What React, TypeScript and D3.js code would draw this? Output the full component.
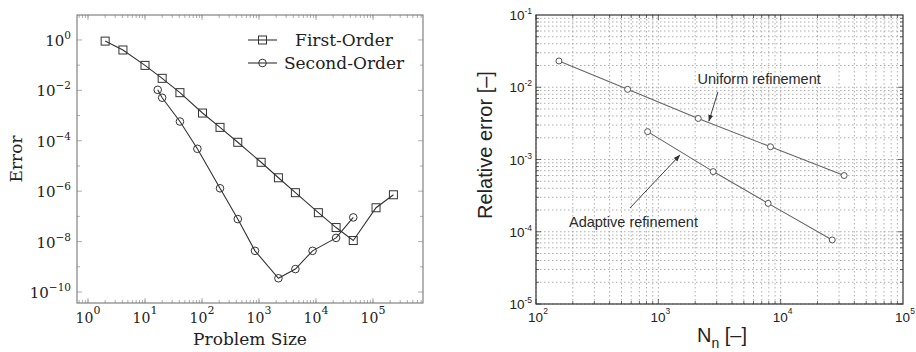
import React from 'react';
import * as d3 from 'd3';

// ---- left panel: convergence of first / second order schemes ----
const firstX = [2, 4.1, 10, 20, 41, 102, 207, 424, 1090, 2190, 4350, 11000, 22500, 45000, 113000, 228000];
const firstY = [0.9, 0.4, 0.098, 0.03, 0.0081, 0.00126, 3.4e-4, 8.7e-5, 1.4e-5, 3.4e-6, 8.7e-7, 1.4e-7, 3.6e-8, 1.1e-8, 2.2e-7, 7.2e-7];
const secondX = [16.7, 20, 41, 83, 207, 424, 850, 2190, 4350, 8700, 22500, 45000];
const secondY = [0.0105, 0.0051, 5.8e-4, 4.8e-5, 1.3e-6, 7.8e-8, 4.3e-9, 3.5e-10, 8.1e-10, 4.3e-9, 1.4e-8, 9.1e-8];
const leftXTicks = [0, 1, 2, 3, 4, 5];
const leftYTicks = [0, -2, -4, -6, -8, -10];
const legendLabels = ['First-Order', 'Second-Order'];

// ---- right panel: uniform vs adaptive refinement ----
const uniformX = [154, 561, 2118, 8260, 33000];
const uniformY = [0.0231, 0.00935, 0.0037, 0.0015, 0.0006];
const adaptiveX = [817, 2810, 7900, 26400];
const adaptiveY = [0.00243, 0.00068, 0.000247, 7.7e-5];
const rightXTicks = [2, 3, 4, 5];
const rightYTicks = [-1, -2, -3, -4, -5];
const annotations = [
  { label: 'Uniform refinement', tx: 2090, ty: 0.013, from: [3070, 0.0086], to: [2590, 0.0034] },
  { label: 'Adaptive refinement', tx: 186, ty: 1.38e-4, from: [586, 2.13e-4], to: [1500, 1.15e-3] },
];

const SERIF = '"DejaVu Serif", serif';
const SANS = '"Liberation Sans", Arial, sans-serif';

// every 1..9 x 10^e value inside [10^lo, 10^hi]
const minorsBetween = (lo: number, hi: number) => {
  const out: number[] = [];
  for (let e = Math.floor(lo); e < Math.ceil(hi); e++) {
    for (let m = 1; m < 10; m++) {
      const v = m * Math.pow(10, e);
      if (Math.log10(v) >= lo - 1e-9 && Math.log10(v) <= hi + 1e-9) out.push(v);
    }
  }
  return out;
};

const LeftPanel: React.FC = () => {
  const L = 77, R = 423, T = 15, B = 303;
  const x = d3.scaleLog().domain([Math.pow(10, -0.193), Math.pow(10, 5.877)]).range([L, R]);
  const y = d3.scaleLog().domain([Math.pow(10, -10.437), Math.pow(10, 0.99)]).range([B, T]);
  const line = d3.line<[number, number]>().x(d => x(d[0])).y(d => y(d[1]));
  const first = firstX.map((v, i) => [v, firstY[i]] as [number, number]);
  const second = secondX.map((v, i) => [v, secondY[i]] as [number, number]);
  const xMinor = minorsBetween(-0.193, 5.877);
  const yMinorDec = d3.range(-10, 1).filter(e => e % 2 !== 0);
  const tickCol = '#999';

  return (
    <g>
      {/* minor ticks */}
      {xMinor.map((v, i) => (
        <g key={'xm' + i} stroke={tickCol} strokeWidth={0.8}>
          <line x1={x(v)} x2={x(v)} y1={B} y2={B - 3} />
          <line x1={x(v)} x2={x(v)} y1={T} y2={T + 3} />
        </g>
      ))}
      {yMinorDec.map(e => (
        <g key={'ym' + e} stroke={tickCol} strokeWidth={0.8}>
          <line x1={L} x2={L + 3} y1={y(Math.pow(10, e))} y2={y(Math.pow(10, e))} />
          <line x1={R} x2={R - 3} y1={y(Math.pow(10, e))} y2={y(Math.pow(10, e))} />
        </g>
      ))}
      {/* major ticks */}
      {leftXTicks.map(e => (
        <g key={'xt' + e} stroke={tickCol} strokeWidth={0.8}>
          <line x1={x(Math.pow(10, e))} x2={x(Math.pow(10, e))} y1={B} y2={B - 5} />
          <line x1={x(Math.pow(10, e))} x2={x(Math.pow(10, e))} y1={T} y2={T + 5} />
        </g>
      ))}
      {leftYTicks.map(e => (
        <g key={'yt' + e} stroke={tickCol} strokeWidth={0.8}>
          <line x1={L} x2={L + 5} y1={y(Math.pow(10, e))} y2={y(Math.pow(10, e))} />
          <line x1={R} x2={R - 5} y1={y(Math.pow(10, e))} y2={y(Math.pow(10, e))} />
        </g>
      ))}
      <rect x={L} y={T} width={R - L} height={B - T} fill="none" stroke="#777" strokeWidth={1.1} />

      {/* tick labels */}
      {leftXTicks.map(e => (
        <text key={'xl' + e} x={x(Math.pow(10, e))} y={B + 20} textAnchor="middle"
          fontFamily={SERIF} fontSize={14} fill="#222">
          <tspan>10</tspan>
          <tspan dy={-9} fontSize={11}>{e}</tspan>
        </text>
      ))}
      {leftYTicks.map(e => (
        <text key={'yl' + e} x={L - 6} y={y(Math.pow(10, e)) + 6} textAnchor="end"
          fontFamily={SERIF} fontSize={15} fill="#222">
          <tspan>10</tspan>
          <tspan dy={-7} fontSize={10.5}>{e === 0 ? '0' : '\u2212' + Math.abs(e)}</tspan>
        </text>
      ))}
      <text x={(L + R) / 2} y={345} textAnchor="middle" fontFamily={SERIF} fontSize={17} fill="#222">
        Problem Size
      </text>
      <text transform={`translate(22,159) rotate(-90)`} textAnchor="middle" fontFamily={SERIF} fontSize={17} fill="#222">
        Error
      </text>

      {/* series */}
      <path d={line(first) || ''} fill="none" stroke="#333" strokeWidth={1.1} />
      <path d={line(second) || ''} fill="none" stroke="#333" strokeWidth={1.1} />
      {first.map((d, i) => (
        <rect key={'fs' + i} x={x(d[0]) - 4} y={y(d[1]) - 4} width={8} height={8}
          fill="none" stroke="#333" strokeWidth={1} />
      ))}
      {second.map((d, i) => (
        <circle key={'sc' + i} cx={x(d[0])} cy={y(d[1])} r={3.8} fill="none" stroke="#333" strokeWidth={1} />
      ))}

      {/* legend */}
      {legendLabels.map((lab, i) => {
        const ly = 40 + i * 23;
        return (
          <g key={lab}>
            <line x1={248} x2={277} y1={ly} y2={ly} stroke="#333" strokeWidth={1.1} />
            {i === 0
              ? <rect x={258.5} y={ly - 4} width={8} height={8} fill="none" stroke="#333" strokeWidth={1} />
              : <circle cx={262.5} cy={ly} r={3.8} fill="none" stroke="#333" strokeWidth={1} />}
            <text x={344} y={ly + 6} textAnchor="middle" fontFamily={SERIF} fontSize={17} fill="#222">{lab}</text>
          </g>
        );
      })}
    </g>
  );
};

const RightPanel: React.FC = () => {
  const L = 536, R = 903, T = 15, B = 304;
  const x = d3.scaleLog().domain([1e2, 1e5]).range([L, R]);
  const y = d3.scaleLog().domain([1e-5, 1e-1]).range([B, T]);
  const line = d3.line<[number, number]>().x(d => x(d[0])).y(d => y(d[1]));
  const uni = uniformX.map((v, i) => [v, uniformY[i]] as [number, number]);
  const ada = adaptiveX.map((v, i) => [v, adaptiveY[i]] as [number, number]);
  const xGrid = minorsBetween(2, 5);
  const yGrid = minorsBetween(-5, -1);

  return (
    <g>
      <defs>
        <marker id="arr" viewBox="0 0 10 10" refX={9} refY={5} markerWidth={7} markerHeight={7} orient="auto">
          <path d="M0,1.5 L10,5 L0,8.5 Z" fill="#333" />
        </marker>
      </defs>
      {/* dotted log grid */}
      {xGrid.map((v, i) => (
        <line key={'gx' + i} x1={x(v)} x2={x(v)} y1={T} y2={B} stroke="#999" strokeWidth={0.8} strokeDasharray="1.5,2.5" />
      ))}
      {yGrid.map((v, i) => (
        <line key={'gy' + i} x1={L} x2={R} y1={y(v)} y2={y(v)} stroke="#999" strokeWidth={0.8} strokeDasharray="1.5,2.5" />
      ))}
      {/* inner ticks */}
      {xGrid.map((v, i) => {
        const len = Number.isInteger(Math.log10(v)) ? 5 : 3;
        return (
          <g key={'tx' + i} stroke="#444" strokeWidth={0.8}>
            <line x1={x(v)} x2={x(v)} y1={B} y2={B - len} />
            <line x1={x(v)} x2={x(v)} y1={T} y2={T + len} />
          </g>
        );
      })}
      {yGrid.map((v, i) => {
        const len = Number.isInteger(Math.log10(v)) ? 5 : 3;
        return (
          <g key={'ty' + i} stroke="#444" strokeWidth={0.8}>
            <line x1={L} x2={L + len} y1={y(v)} y2={y(v)} />
            <line x1={R} x2={R - len} y1={y(v)} y2={y(v)} />
          </g>
        );
      })}
      <rect x={L} y={T} width={R - L} height={B - T} fill="none" stroke="#333" strokeWidth={1.2} />

      {rightXTicks.map(e => (
        <text key={'xl' + e} x={x(Math.pow(10, e)) + 2} y={322} textAnchor="middle"
          fontFamily={SANS} fontSize={13.5} fill="#222">
          <tspan>10</tspan>
          <tspan dy={-8} fontSize={8.5}>{e}</tspan>
        </text>
      ))}
      {rightYTicks.map(e => (
        <text key={'yl' + e} x={L - 4} y={y(Math.pow(10, e)) + 5} textAnchor="end"
          fontFamily={SANS} fontSize={13.5} fill="#222">
          <tspan>10</tspan>
          <tspan dy={-6} fontSize={8.5}>{'-' + Math.abs(e)}</tspan>
        </text>
      ))}
      <text x={722} y={342} textAnchor="middle" fontFamily={SANS} fontSize={20} fill="#222">
        <tspan>N</tspan>
        <tspan dy={6} fontSize={14}>n</tspan>
        <tspan dy={-6}> [–]</tspan>
      </text>
      <text transform={`translate(492,145) rotate(-90)`} textAnchor="middle" fontFamily={SANS} fontSize={20} fill="#222">
        Relative error [–]
      </text>

      <path d={line(uni) || ''} fill="none" stroke="#666" strokeWidth={1.1} />
      <path d={line(ada) || ''} fill="none" stroke="#666" strokeWidth={1.1} />
      {uni.concat(ada).map((d, i) => (
        <circle key={'m' + i} cx={x(d[0])} cy={y(d[1])} r={3} fill="#fff" stroke="#555" strokeWidth={1} />
      ))}

      {annotations.map(a => (
        <g key={a.label}>
          <line x1={x(a.from[0])} y1={y(a.from[1])} x2={x(a.to[0])} y2={y(a.to[1])}
            stroke="#444" strokeWidth={1} markerEnd="url(#arr)" />
          <text x={x(a.tx)} y={y(a.ty) + 5} fontFamily={SANS} fontSize={14.5} fill="#2a2a2a">{a.label}</text>
        </g>
      ))}
    </g>
  );
};

export default function App() {
  return (
    <svg width={916} height={352} style={{ position: 'absolute', left: 0, top: 0, background: '#fff' }}>
      <rect width={916} height={352} fill="#fff" />
      <LeftPanel />
      <RightPanel />
    </svg>
  );
}
